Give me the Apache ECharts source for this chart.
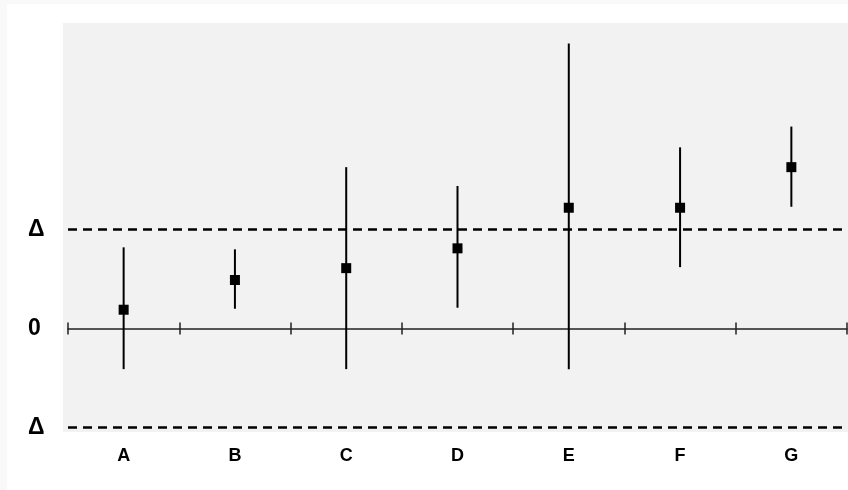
<!DOCTYPE html>
<html>
<head>
<meta charset="utf-8">
<script src="https://cdn.jsdelivr.net/npm/echarts@6/dist/echarts.min.js"></script>
<style>
html,body{margin:0;padding:0;background:#ffffff;}
#chart{width:848px;height:490px;}
</style>
</head>
<body>
<div id="chart"></div>
<script>
// ---- data ----
const categories = ['A', 'B', 'C', 'D', 'E', 'F', 'G'];
const means = [0.19, 0.49, 0.61, 0.81, 1.22, 1.22, 1.63];
const lows  = [-0.41, 0.20, -0.41, 0.21, -0.41, 0.62, 1.23];
const highs = [0.82, 0.80, 1.63, 1.44, 2.88, 1.83, 2.04];
const yLabelValues = [-1, 0, 1];
const yLabelTexts = ['Δ', '0', 'Δ'];
const refLines = [1, -1];

const chart = echarts.init(document.getElementById('chart'), null, {renderer: 'canvas'});

const whiskerData = categories.map((c, i) => [i, lows[i], highs[i]]);

const option = {
  backgroundColor: '#ffffff',
  animation: false,
  graphic: [
    { type: 'rect', z: -20, silent: true,
      shape: { x: 0, y: 0, width: 848, height: 490 },
      style: { fill: '#f9f9f9' } },
    { type: 'rect', z: -19, silent: true,
      shape: { x: 7, y: 4, width: 841, height: 486 },
      style: { fill: '#ffffff' } },
    { type: 'rect', z: -18, silent: true,
      shape: { x: 63, y: 23, width: 785, height: 409 },
      style: { fill: '#f2f2f2' } }
  ],
  grid: { left: 68, right: 1, top: 23, bottom: 58 },
  xAxis: [
    {
      type: 'category', data: categories, position: 'bottom',
      axisLine: { show: false, onZero: false },
      axisTick: { show: false },
      axisLabel: { fontSize: 18, fontWeight: 'bold', color: '#000',
                   fontFamily: 'Liberation Sans, Arial, sans-serif', margin: 15 },
      splitLine: { show: false }
    },
    {
      type: 'category', data: categories,
      axisLine: { show: true, onZero: true, onZeroAxisIndex: 0,
                  lineStyle: { color: '#222', width: 1.5 } },
      axisTick: { show: true, inside: true, length: 6, lineStyle: { color: '#222', width: 1.5 } },
      axisLabel: { show: false },
      splitLine: { show: false }
    },
    {
      type: 'category', data: categories,
      axisLine: { show: false, onZero: true, onZeroAxisIndex: 0 },
      axisTick: { show: true, inside: false, length: 6, lineStyle: { color: '#222', width: 1.5 } },
      axisLabel: { show: false },
      splitLine: { show: false }
    }
  ],
  yAxis: {
    type: 'value', min: -1.045, max: 3.086,
    axisLine: { show: false },
    axisTick: { show: false },
    splitLine: { show: false },
    axisLabel: {
      customValues: yLabelValues,
      formatter: function (v) {
        const idx = yLabelValues.indexOf(Math.round(v));
        return idx >= 0 ? yLabelTexts[idx] : '';
      },
      align: 'left', margin: 40,
      fontSize: 23, fontWeight: 'bold', color: '#000',
      fontFamily: 'Liberation Sans, Arial, sans-serif'
    }
  },
  series: [
    {
      type: 'custom', xAxisIndex: 0, yAxisIndex: 0, z: 3,
      data: whiskerData,
      renderItem: function (params, api) {
        const x = api.value(0);
        const p1 = api.coord([x, api.value(1)]);
        const p2 = api.coord([x, api.value(2)]);
        return {
          type: 'line',
          shape: { x1: p1[0], y1: p1[1], x2: p2[0], y2: p2[1] },
          style: { stroke: '#000', lineWidth: 2 }
        };
      },
      silent: true
    },
    {
      type: 'scatter', xAxisIndex: 0, yAxisIndex: 0, z: 4,
      data: means,
      symbol: 'rect', symbolSize: 10,
      itemStyle: { color: '#000', opacity: 1 },
      silent: true,
      markLine: {
        silent: true, symbol: 'none',
        label: { show: false },
        lineStyle: { color: '#000', width: 2.5, type: [9, 6], opacity: 1 },
        data: refLines.map(v => ({ yAxis: v }))
      }
    }
  ]
};
chart.setOption(option);
</script>
</body>
</html>
